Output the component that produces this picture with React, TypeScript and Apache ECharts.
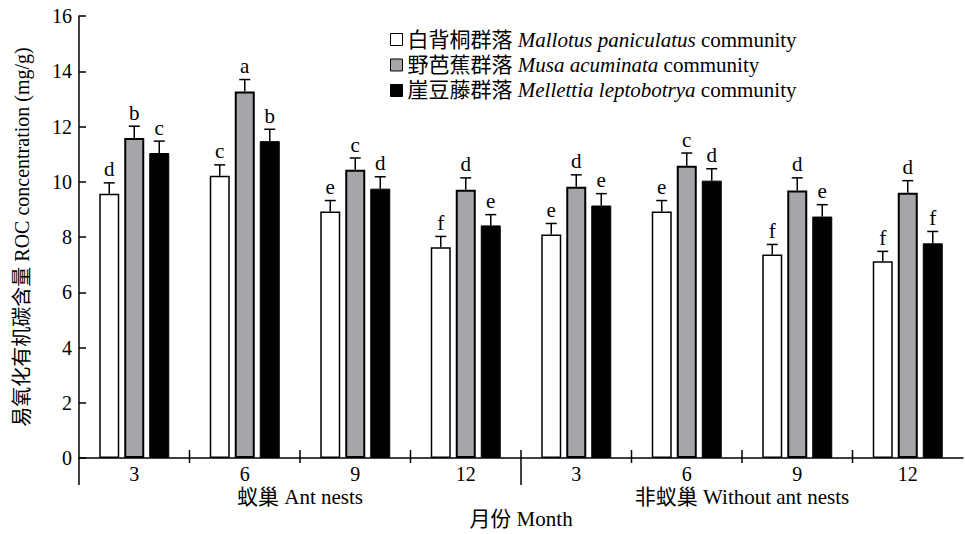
import React, { useEffect, useRef } from 'react';
import * as echarts from 'echarts';

const months = ['3', '6', '9', '12', '3', '6', '9', '12'];
const groupLabels = ['蚁巢 Ant nests', '非蚁巢 Without ant nests'];
const groupStarts = [0, 4];
const boundaries = [0, 1, 2, 3, 4, 5, 6, 7];

const seriesNames = [
  '白背桐群落 Mallotus paniculatus community',
  '野芭蕉群落 Musa acuminata community',
  '崖豆藤群落 Mellettia leptobotrya community',
];
const legendRich = [
  '{n|白背桐群落 }{i|Mallotus paniculatus}{n| community}',
  '{n|野芭蕉群落 }{i|Musa acuminata}{n| community}',
  '{n|崖豆藤群落 }{i|Mellettia leptobotrya}{n| community}',
];

const mallotus = [9.57, 10.22, 8.92, 7.63, 8.09, 8.92, 7.37, 7.12];
const mallotusErr = [0.39, 0.39, 0.4, 0.39, 0.4, 0.4, 0.36, 0.36];
const mallotusLetters = ['d', 'c', 'e', 'f', 'e', 'e', 'f', 'f'];

const musa = [11.58, 13.27, 10.43, 9.71, 9.82, 10.58, 9.68, 9.6];
const musaErr = [0.43, 0.43, 0.43, 0.43, 0.43, 0.46, 0.46, 0.44];
const musaLetters = ['b', 'a', 'c', 'd', 'd', 'c', 'd', 'd'];

const mellettia = [11.04, 11.47, 9.75, 8.42, 9.14, 10.04, 8.74, 7.77];
const mellettiaErr = [0.43, 0.43, 0.43, 0.39, 0.43, 0.43, 0.43, 0.43];
const mellettiaLetters = ['c', 'b', 'd', 'e', 'e', 'd', 'e', 'f'];

const FONT = "'Liberation Serif', 'Noto Sans CJK SC', serif";
const BAR_W = 20;
const BAR_GAP = 5;

export default function App() {
  const ref = useRef<HTMLDivElement>(null);
  useEffect(() => {
    document.body.style.margin = '0';
    const chart = echarts.init(ref.current!, null, { renderer: 'svg' });

    const values = [mallotus, musa, mellettia];
    const errs = [mallotusErr, musaErr, mellettiaErr];
    const letters = [mallotusLetters, musaLetters, mellettiaLetters];
    const styles = [
      { color: '#ffffff', borderColor: '#000', borderWidth: 1.5 },
      { color: '#a6a6aa', borderColor: '#000', borderWidth: 2 },
      { color: '#000000', borderColor: '#000', borderWidth: 1 },
    ];

    const barSeries = values.map((vals, k) => ({
      type: 'bar',
      name: seriesNames[k],
      data: vals,
      barWidth: BAR_W,
      barGap: `${(BAR_GAP / BAR_W) * 100}%`,
      itemStyle: styles[k],
      z: 2,
    }));

    const errSeries = values.map((vals, k) => {
      const offset = (k - 1) * (BAR_W + BAR_GAP);
      return {
        type: 'custom',
        name: seriesNames[k] + ' err',
        data: vals.map((v, i) => [i, v, errs[k][i]]),
        z: 3,
        silent: true,
        renderItem: (params: any, api: any) => {
          const i = api.value(0);
          const v = api.value(1);
          const e = api.value(2);
          const base = api.coord([i, v]);
          const top = api.coord([i, v + e]);
          const x = base[0] + offset;
          return {
            type: 'group',
            children: [
              { type: 'line', shape: { x1: x, y1: base[1], x2: x, y2: top[1] }, style: { stroke: '#000', lineWidth: 1.5 } },
              { type: 'line', shape: { x1: x - 5.5, y1: top[1], x2: x + 5.5, y2: top[1] }, style: { stroke: '#000', lineWidth: 1.5 } },
              {
                type: 'text',
                x,
                y: top[1] - 3,
                style: {
                  text: letters[k][params.dataIndex],
                  align: 'center',
                  verticalAlign: 'bottom',
                  fontSize: 21,
                  fontFamily: FONT,
                  fill: '#000',
                },
              },
            ],
          };
        },
      };
    });

    const tickSeries = {
      type: 'custom',
      name: 'ticks',
      data: boundaries.map((b) => [b, 0]),
      z: 4,
      silent: true,
      renderItem: (params: any, api: any) => {
        const i = api.value(0);
        const c = api.coord([i, 0]);
        const bw = api.size([1, 0])[0];
        const x = c[0] - bw / 2;
        const long = groupStarts.includes(i);
        return {
          type: 'line',
          shape: { x1: x, y1: i === 0 ? c[1] : c[1] - 8, x2: x, y2: c[1] + (long ? 27 : 5) },
          style: { stroke: '#000', lineWidth: 1.5 },
        };
      },
    };

    const gridPos = { left: 79, right: 2, top: 16, bottom: 73 };

    chart.setOption({
      animation: false,
      grid: [gridPos, { ...gridPos }],
      legend: {
        orient: 'vertical',
        left: 390,
        top: 29,
        padding: 0,
        itemWidth: 12,
        itemHeight: 12,
        itemGap: 4.5,
        icon: 'rect',
        data: seriesNames.map((n, k) => ({
          name: n,
          itemStyle: { color: styles[k].color, borderColor: '#000', borderWidth: 1 },
        })),
        formatter: (name: string) => legendRich[seriesNames.indexOf(name)],
        textStyle: {
          fontSize: 21,
          fontFamily: FONT,
          color: '#000',
          rich: {
            n: { fontSize: 21, lineHeight: 21, fontFamily: FONT, color: '#000' },
            i: { fontSize: 21, lineHeight: 21, fontFamily: FONT, fontStyle: 'italic', color: '#000' },
          },
        },
      },
      xAxis: [
        {
          type: 'category',
          gridIndex: 0,
          data: months,
          axisLine: { lineStyle: { color: '#000', width: 1.5 } },
          axisTick: { show: false },
          axisLabel: { fontSize: 20, fontFamily: FONT, color: '#000', margin: 6 },
          name: '月份 Month',
          nameLocation: 'middle',
          nameGap: 50,
          nameTextStyle: { fontSize: 21, fontFamily: FONT, color: '#000' },
        },
        {
          type: 'category',
          gridIndex: 1,
          data: groupLabels,
          axisLine: { show: false },
          axisTick: { show: false },
          axisLabel: { fontSize: 21, fontFamily: FONT, color: '#000', margin: 25 },
        },
      ],
      yAxis: [
        {
          type: 'value',
          gridIndex: 0,
          min: 0,
          max: 16,
          interval: 2,
          axisLine: { show: true, lineStyle: { color: '#000', width: 1.5 } },
          axisTick: { show: true, inside: true, length: 7, lineStyle: { color: '#000', width: 1.5 } },
          splitLine: { show: false },
          axisLabel: { fontSize: 20, fontFamily: FONT, color: '#000', margin: 7 },
          name: '易氧化有机碳含量 ROC concentration (mg/g)',
          nameLocation: 'middle',
          nameGap: 47,
          nameTextStyle: { fontSize: 20, fontFamily: FONT, color: '#000' },
        },
        {
          type: 'value',
          gridIndex: 1,
          min: 0,
          max: 16,
          show: false,
        },
      ],
      series: [...barSeries, ...errSeries, tickSeries],
    });
    return () => chart.dispose();
  }, []);
  return <div ref={ref} style={{ width: 965, height: 534 }} />;
}
